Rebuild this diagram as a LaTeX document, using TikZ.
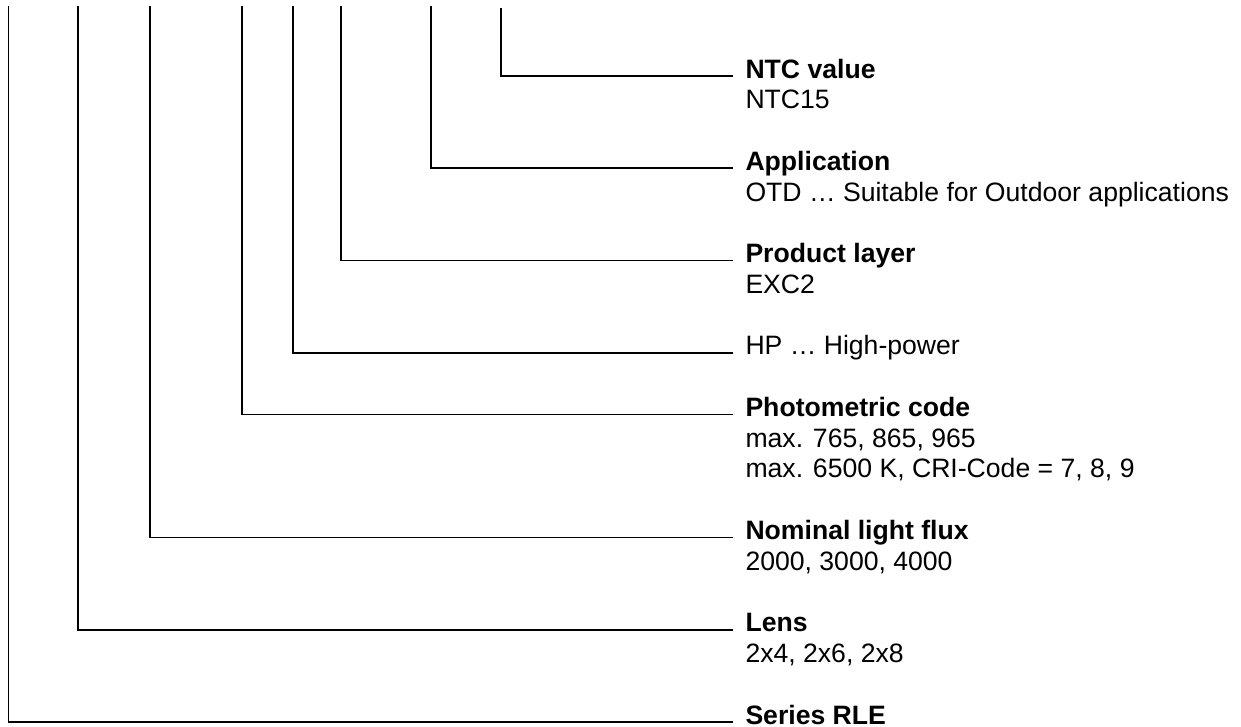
\documentclass[tikz,border=0pt]{standalone}
\usepackage{fontspec}
\setmainfont{Liberation Sans}
\usetikzlibrary{calc}

\newcommand{\lbtab}[1]{\begin{tabular}[t]{@{}l@{}}#1\end{tabular}}

\begin{document}
\begin{tikzpicture}[x=0.4pt, y=-0.4pt,
  lead/.style={line width=0.65pt},
  lbl/.style={anchor=base west, inner sep=0pt,
    font=\fontsize{10.64pt}{12.3pt}\selectfont}]
  \useasboundingbox (0,0) rectangle (1241,727);
  % code fields, one baseline every 30.76
  \node[lbl] (ntc) at (745,78) {\lbtab{\textbf{NTC value}\\NTC15}};
  \node[lbl] (otd) at (745,170.3)
    {\lbtab{\textbf{Application}\\OTD … Suitable for Outdoor applications}};
  \node[lbl] (exc) at (745,262.6) {\lbtab{\textbf{Product layer}\\EXC2}};
  \node[lbl] (hp) at (745,354.8) {HP … High-power};
  \node[lbl] (pho) at (745,416.4)
    {\lbtab{\textbf{Photometric code}\\max. 765, 865, 965\\max. 6500 K, CRI-Code = 7, 8, 9}};
  \node[lbl] (flux) at (745,539.4) {\lbtab{\textbf{Nominal light flux}\\2000, 3000, 4000}};
  \node[lbl] (lens) at (745,631.7) {\lbtab{\textbf{Lens}\\2x4, 2x6, 2x8}};
  \node[lbl] (rle) at (745,724) {\textbf{Series RLE}};
  % leads from the top
  \foreach \n/\x in {rle/8.5,lens/78.3,flux/150,pho/242,hp/293,exc/341,otd/431}
    \coordinate (\n-top) at (\x,6);
  \coordinate (ntc-top) at (501,8);
  \foreach \n in {ntc,otd,exc,hp,pho,flux,lens,rle}
    \draw[lead] (\n-top) |- ($(\n.base west)+(-12,-2)$);
\end{tikzpicture}
\end{document}
